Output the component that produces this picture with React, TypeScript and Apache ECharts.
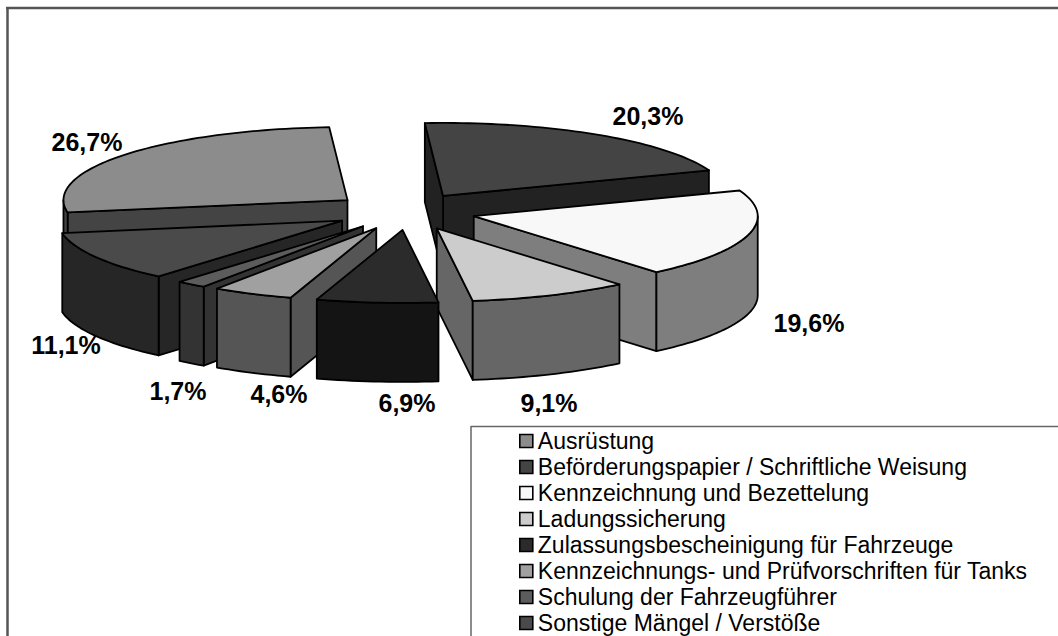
import React, { useEffect, useRef } from "react";
import * as echarts from "echarts";

const categories = [
  "Ausrüstung",
  "Beförderungspapier / Schriftliche Weisung",
  "Kennzeichnung und Bezettelung",
  "Ladungssicherung",
  "Zulassungsbescheinigung für Fahrzeuge",
  "Kennzeichnungs- und Prüfvorschriften für Tanks",
  "Schulung der Fahrzeugführer",
  "Sonstige Mängel / Verstöße",
];
const values = [26.7, 20.3, 19.6, 9.1, 6.9, 4.6, 1.7, 11.1];
const valueLabels = ["26,7%", "20,3%", "19,6%", "9,1%", "6,9%", "4,6%", "1,7%", "11,1%"];
const topColors = ["#8c8c8c", "#444444", "#f8f8f8", "#cccccc", "#2b2b2b", "#a0a0a0", "#5c5c5c", "#4a4a4a"];
const wallColors = ["#444444", "#222222", "#7e7e7e", "#666666", "#141414", "#555555", "#333333", "#262626"];
const drawOrder = [0, 1, 2, 7, 6, 5, 3, 4];
const labelCenters = [
  [87, 142], [648, 116], [809, 323], [549, 403], [407, 403], [279, 394], [178, 391], [66, 345],
];

// projection of the tilted, exploded pie
const CX = 404;
const CY = 211.5;
const RX = 284;
const RY = 73;
const EXPLODE_X = 72;
const EXPLODE_Y = 18.5;
const FRONT_SHIFT = 5;
const DEPTH = 79;
const START_DEG = 260.2; // clockwise from 12 o'clock, where the first slice begins

const total = values.reduce((s, v) => s + v, 0);

function sliceAngles(i: number) {
  let before = 0;
  for (let k = 0; k < i; k++) before += values[k];
  const a0 = START_DEG + (before / total) * 360;
  return [a0, a0 + (values[i] / total) * 360];
}

function project(deg: number, rx: number, ry: number) {
  const t = (deg * Math.PI) / 180;
  return [rx * Math.sin(t), -ry * Math.cos(t)];
}

function renderSlice(i: number) {
  const [a0, a1] = sliceAngles(i);
  const mid = (a0 + a1) / 2;
  const [ox, oy] = project(mid, EXPLODE_X, EXPLODE_Y);
  const front = Math.max(0, -Math.cos((mid * Math.PI) / 180));
  const apex = [CX + ox + FRONT_SHIFT * front * front * front, CY + oy];
  const at = (deg: number, drop = 0) => {
    const [x, y] = project(deg, RX, RY);
    return [apex[0] + x, apex[1] + y + drop];
  };
  const arc = (from: number, to: number, drop = 0) => {
    const n = Math.max(2, Math.ceil((to - from) / 1.5));
    const pts: number[][] = [];
    for (let k = 0; k <= n; k++) pts.push(at(from + ((to - from) * k) / n, drop));
    return pts;
  };
  const stroke = { stroke: "#000", lineWidth: 1.8, lineJoin: "round" };
  const wall = { ...stroke, fill: wallColors[i] };
  const down = (p: number[]) => [p[0], p[1] + DEPTH];
  const children: any[] = [];
  const radial = (deg: number) => {
    const p = at(deg);
    children.push({
      type: "polygon",
      shape: { points: [apex, p, down(p), down(apex)] },
      style: wall,
    });
  };
  const norm = (d: number) => ((d % 360) + 360) % 360;
  // a radial wall shows only when the slice's top lies behind its edge
  if (norm(a1) < 180) radial(a1);
  if (norm(a0) >= 180) radial(a0);
  // the part of the rim that faces the viewer: 90..270 degrees, modulo a turn
  for (const shift of [0, 360, -360]) {
    const from = Math.max(a0, 90 + shift);
    const to = Math.min(a1, 270 + shift);
    if (to > from) {
      const up = arc(from, to);
      children.push({
        type: "polygon",
        shape: { points: [...up, ...up.slice().reverse().map(down)] },
        style: wall,
      });
    }
  }
  children.push({
    type: "polygon",
    shape: { points: [apex, ...arc(a0, a1)] },
    style: { ...stroke, fill: topColors[i] },
  });
  return { type: "group", children };
}

const LEGEND_ROW = 26;

export default function App() {
  const ref = useRef<HTMLDivElement>(null);
  useEffect(() => {
    document.body.style.margin = "0";
    document.body.style.overflow = "hidden";
    const chart = echarts.init(ref.current!, undefined, { renderer: "svg" });
    chart.setOption({
      animation: false,
      backgroundColor: "#ffffff",
      legend: {
        orient: "vertical",
        left: 519,
        top: 428,
        height: 300,
        padding: 0,
        itemGap: 0,
        itemWidth: 13,
        itemHeight: 13,
        icon: "rect",
        selectedMode: false,
        data: categories,
        textStyle: {
          fontFamily: "'Liberation Sans', Arial, sans-serif",
          fontSize: 23,
          color: "#000",
          lineHeight: LEGEND_ROW,
          height: LEGEND_ROW,
        },
        itemStyle: { borderColor: "#000", borderWidth: 1.6 },
      },
      series: drawOrder.map((i) => ({
        type: "custom",
        name: categories[i],
        coordinateSystem: "none",
        silent: true,
        itemStyle: { color: topColors[i] },
        data: [values[i]],
        renderItem: () => renderSlice(i),
      })),
      graphic: [
        { type: "line", shape: { x1: 6, y1: 8, x2: 1058, y2: 8 }, style: { stroke: "#555", lineWidth: 2.5 } },
        { type: "line", shape: { x1: 7.5, y1: 7, x2: 7.5, y2: 636 }, style: { stroke: "#555", lineWidth: 2.5 } },
        { type: "line", shape: { x1: 471, y1: 426.5, x2: 1058, y2: 426.5 }, style: { stroke: "#666", lineWidth: 1.5 } },
        { type: "line", shape: { x1: 471, y1: 426, x2: 471, y2: 636 }, style: { stroke: "#666", lineWidth: 1.5 } },
        ...valueLabels.map((text, i) => ({
          type: "text",
          x: labelCenters[i][0],
          y: labelCenters[i][1],
          z: 50,
          style: {
            text,
            fill: "#000",
            font: "bold 25px 'Liberation Sans', Arial, sans-serif",
            textAlign: "center",
            textVerticalAlign: "middle",
          },
        })),
      ],
    });
    return () => chart.dispose();
  }, []);
  return <div ref={ref} style={{ width: 1058, height: 636 }} />;
}
